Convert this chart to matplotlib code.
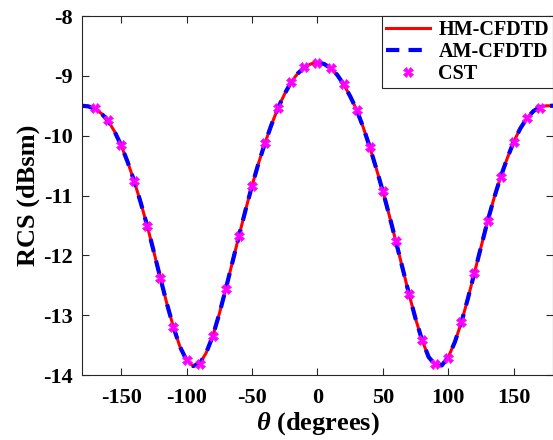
import numpy as np
import matplotlib
matplotlib.use('Agg')
import matplotlib.pyplot as plt

plt.rcParams['font.family'] = ['Liberation Serif', 'DejaVu Serif']
plt.rcParams['font.weight'] = 'bold'
plt.rcParams['axes.unicode_minus'] = False
plt.rcParams['mathtext.fontset'] = 'custom'
plt.rcParams['mathtext.it'] = 'Liberation Serif:italic:bold'

# Data

theta_line = [-180, -175, -170, -165, -160, -155, -150, -145, -140, -135,
              -130, -125, -120, -115, -110, -105, -100, -95, -90, -85,
              -80, -75, -70, -65, -60, -55, -50, -45, -40, -35,
              -30, -25, -20, -15, -10, -5, 0, 5, 10, 15,
              20, 25, 30, 35, 40, 45, 50, 55, 60, 65,
              70, 75, 80, 85, 90, 95, 100, 105, 110, 115,
              120, 125, 130, 135, 140, 145, 150, 155, 160, 165,
              170, 175, 180]

rcs_hm = [-9.50, -9.51, -9.55, -9.63, -9.75, -9.93, -10.16, -10.44, -10.76, -11.12,
          -11.51, -11.94, -12.38, -12.81, -13.20, -13.53, -13.75, -13.85, -13.81, -13.63,
          -13.35, -12.98, -12.56, -12.12, -11.68, -11.25, -10.84, -10.46, -10.12, -9.81,
          -9.53, -9.30, -9.10, -8.96, -8.86, -8.80, -8.78, -8.80, -8.87, -8.98,
          -9.14, -9.34, -9.57, -9.86, -10.19, -10.55, -10.93, -11.34, -11.77, -12.21,
          -12.65, -13.06, -13.42, -13.70, -13.83, -13.84, -13.70, -13.45, -13.12, -12.72,
          -12.29, -11.86, -11.43, -11.04, -10.69, -10.38, -10.10, -9.88, -9.71, -9.59,
          -9.52, -9.50, -9.50]

rcs_am = list(rcs_hm)

theta_cst = [-170, -160, -150, -140, -130, -120, -110, -100, -90, -80,
             -70, -60, -50, -40, -30, -20, -10, 0, 10, 20,
             30, 40, 50, 60, 70, 80, 90, 100, 110, 120,
             130, 140, 150, 160, 170]

rcs_cst = [-9.54, -9.74, -10.16, -10.76, -11.51, -12.38, -13.20, -13.75, -13.81, -13.35,
           -12.57, -11.68, -10.84, -10.12, -9.53, -9.10, -8.85, -8.79, -8.87, -9.14,
           -9.57, -10.19, -10.92, -11.76, -12.65, -13.42, -13.82, -13.71, -13.12, -12.29,
           -11.43, -10.69, -10.10, -9.71, -9.53]

# Plot

fig = plt.figure(figsize=(5.53, 4.4), dpi=100)
ax = fig.add_axes([0.148, 0.1477, 0.852, 0.8159])

ax.plot(theta_line, rcs_hm, color='red', lw=2.2, label='HM-CFDTD')
ax.plot(theta_line, rcs_am, color='blue', lw=3.0, dashes=(3.2, 2.2), label='AM-CFDTD')
ax.plot(theta_cst, rcs_cst, 'X', color='magenta', markersize=6.5, markeredgewidth=0.5,
        linestyle='none', label='CST')

ax.set_xlim(-180, 180)
ax.set_ylim(-14, -8)
ax.set_xticks([-150, -100, -50, 0, 50, 100, 150])
ax.set_yticks([-14, -13, -12, -11, -10, -9, -8])

ax.tick_params(direction='in', top=True, right=True, length=5, width=0.8,
               color='#262626', labelsize=16)
ax.tick_params(axis='x', pad=9)
ax.tick_params(axis='y', pad=6.5)
for sp in ax.spines.values():
    sp.set_color('#262626')
    sp.set_linewidth(0.8)

ax.set_xlabel(r'$\theta$ (degrees)', fontsize=19, fontweight='bold', labelpad=2)
ax.set_ylabel('RCS (dBsm)', fontsize=19, fontweight='bold', labelpad=2)

leg = ax.legend(loc='upper right', fontsize=14.5, fancybox=False, framealpha=1,
                edgecolor='#262626', borderaxespad=0.0, handlelength=2.2,
                labelspacing=0.1, borderpad=0.2, handletextpad=0.4)
leg.get_frame().set_linewidth(0.8)

fig.savefig('out.png', dpi=100)
